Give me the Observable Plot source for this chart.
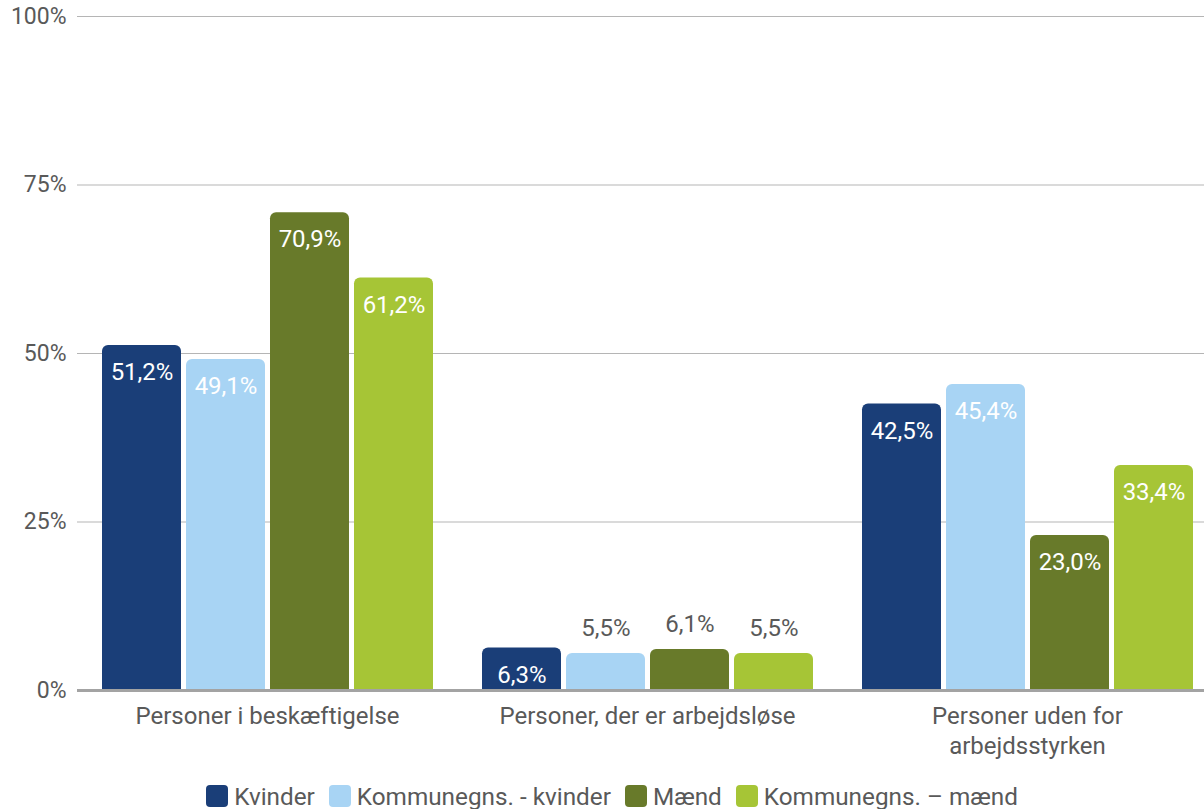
<!DOCTYPE html>
<html><head><meta charset="utf-8">
<script src="https://cdn.jsdelivr.net/npm/d3@7"></script>
<script src="https://cdn.jsdelivr.net/npm/@observablehq/plot@0.6"></script>
<style>
html,body{margin:0;padding:0;background:#fff;}
body{font-family:Roboto,sans-serif;width:1204px;height:809px;overflow:hidden;}
#legend{display:flex;justify-content:center;align-items:center;height:24px;margin-top:14px;font-size:24.3px;color:#595959;padding-left:20px;}
.item{display:flex;align-items:center;margin:0 7px;}
.sw{width:22px;height:22px;border-radius:4px;margin-right:6px;}
</style></head><body><div id="chart"></div><div id="legend"></div>
<script>
const categories = ["Personer i beskæftigelse", "Personer, der er arbejdsløse", "Personer uden for arbejdsstyrken"];
const categoryLabels = ["Personer i beskæftigelse", "Personer, der er arbejdsløse", "Personer uden for\narbejdsstyrken"];
const series = ["Kvinder", "Kommunegns. - kvinder", "Mænd", "Kommunegns. – mænd"];
const colors = ["#1a3e78", "#a8d4f4", "#687a2a", "#a6c536"];
const kvinder = [51.2, 6.3, 42.5];
const kommKvinder = [49.1, 5.5, 45.4];
const maend = [70.9, 6.1, 23.0];
const kommMaend = [61.2, 5.5, 33.4];
const yTicks = [0, 25, 50, 75, 100];
const insideMin = 6.2; // labels of smaller bars sit above the bar

const seriesValues = [kvinder, kommKvinder, maend, kommMaend];
const data = [];
categories.forEach((c, i) => series.forEach((s, j) => data.push({category: c, series: s, value: seriesValues[j][i]})));
const fmt = v => v.toFixed(1).replace(".", ",") + "%";

const chart = Plot.plot({
  width: 1204, height: 770,
  marginLeft: 76, marginRight: 0, marginTop: 16, marginBottom: 80,
  style: {fontFamily: "Roboto, sans-serif", fontSize: "23px", color: "#595959", background: "white", overflow: "hidden"},
  fx: {domain: categories, range: [76, 1217], paddingInner: 0, paddingOuter: 0, label: null},
  x: {domain: series, paddingInner: 0.06, paddingOuter: 0.27, axis: null},
  y: {domain: [0, 100], label: null},
  color: {domain: series, range: colors},
  marks: [
    Plot.ruleY(yTicks.filter(d => d > 0), {stroke: "#b5b5b5", strokeWidth: 1}),
    Plot.barY(data, {fx: "category", x: "series", y: "value", fill: "series", rx: 6}),
    Plot.barY(data, {fx: "category", x: "series", y: d => Math.min(d.value, 1), fill: "series"}),
    Plot.ruleY([0], {stroke: "#a3a3a3", strokeWidth: 3}),
    Plot.text(data.filter(d => d.value >= insideMin), {fx: "category", x: "series", y: "value", text: d => fmt(d.value), dy: 27, fill: "white", fontSize: 24}),
    Plot.text(data.filter(d => d.value < insideMin), {fx: "category", x: "series", y: "value", text: d => fmt(d.value), dy: -25, fill: "#595959", fontSize: 24}),
    Plot.axisY({ticks: yTicks, tickFormat: d => d + "%", tickSize: 0, tickPadding: 11, fontSize: 23, label: null}),
    Plot.axisFx({anchor: "bottom", tickSize: 0, tickPadding: 13, fontSize: 24, lineHeight: 1.22, label: null,
      tickFormat: d => categoryLabels[categories.indexOf(d)]})
  ]
});
document.getElementById("chart").appendChild(chart);

const legend = document.getElementById("legend");
series.forEach((s, j) => {
  const it = document.createElement("div"); it.className = "item";
  const sw = document.createElement("div"); sw.className = "sw"; sw.style.background = colors[j];
  const t = document.createElement("span"); t.textContent = s;
  it.appendChild(sw); it.appendChild(t); legend.appendChild(it);
});
</script></body></html>
